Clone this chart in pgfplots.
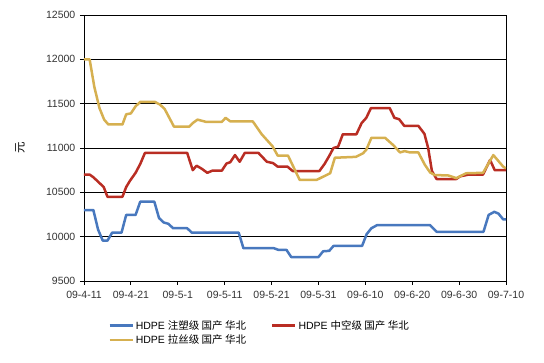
\documentclass[border=0pt]{standalone}
\usepackage{fontspec}
\setmainfont{Liberation Sans}
\newfontfamily\cjk{Noto Sans CJK SC}
\usepackage{pgfplots}
\pgfplotsset{compat=1.18}
\definecolor{sblue}{RGB}{72,120,190}
\definecolor{sred}{RGB}{185,45,35}
\definecolor{sgold}{RGB}{214,176,80}
\begin{document}
\fontsize{10.5}{13}\selectfont
\begin{tikzpicture}[x=1pt,y=1pt]
\path[use as bounding box] (0,0) rectangle (544,363);
\begin{axis}[
  at={(84pt,82pt)}, anchor=south west,
  scale only axis, width=422pt, height=266pt,
  xmin=0, xmax=90, ymin=9500, ymax=12500,
  xtick={0,10,...,90},
  xticklabels={09-4-11,09-4-21,09-5-1,09-5-11,09-5-21,09-5-31,09-6-10,09-6-20,09-6-30,09-7-10},
  ytick={9500,10000,...,12500},
  scaled y ticks=false,
  /pgf/number format/1000 sep={},
  /pgf/number format/fixed,
  /pgf/number format/assume math mode=true,
  tick align=outside, xtick pos=left, ytick pos=left,
  major tick length=4pt,
  tick style={black, line width=0.8pt},
  axis line style={black, line width=0.8pt},
  ymajorgrids, grid style={black, line width=0.8pt},
  tick label style={font=\fontsize{10.5}{12}\selectfont, text=black!80},
  xticklabel style={yshift=-2pt},
  yticklabel style={xshift=-1pt},
  ylabel={\cjk 元},
  ylabel style={at={(axis description cs:-0.152,0.5)}, anchor=center, font=\fontsize{11.5}{12}\selectfont},
  legend columns=2,
  legend style={at={(0.057,-0.14)}, anchor=north west, draw=none, fill=none,
    font=\fontsize{10.5}{13}\selectfont, row sep=0pt, inner sep=0pt},
  legend cell align=left,
  /tikz/every even column/.append style={column sep=23pt},
  legend image code/.code={\draw[#1, line width=2.5pt] (0pt,0pt) -- (23pt,0pt);},
  every axis plot/.append style={line width=2.5pt, line join=round},
]
\addplot[sblue] coordinates {
(0,10300) (2,10300) (3,10080) (4,9955) (5,9955) (6,10045) (8,10045) (9,10245) (11,10245)
(12,10395) (15,10395) (16,10210) (17,10160) (18,10145) (19,10095) (22,10095) (23,10045)
(33,10045) (34,9870) (40.5,9870) (41.5,9850) (43.2,9850) (44.2,9770) (50,9770) (51,9835)
(52.3,9840) (53.2,9895) (59.3,9895) (60.3,10030) (61.3,10095) (62.5,10130) (73.8,10130)
(75.2,10055) (85.2,10055) (86.3,10245) (87.5,10280) (88.4,10260) (89.4,10195) (90,10195)
};
\addlegendentry{HDPE {\cjk 注塑级 国产 华北}}
\addplot[sred] coordinates {
(0,10700) (1.2,10700) (2,10670) (3,10620) (4.2,10560) (5,10450) (8.2,10450) (9,10560)
(9.8,10630) (11,10720) (12,10820) (13,10945) (22,10945) (23.2,10750) (24,10800) (25,10770)
(26.3,10720) (27.4,10745) (29.4,10745) (30.4,10825) (31.2,10840) (32.2,10920) (33.2,10845)
(34.3,10945) (37.2,10945) (38,10900) (39,10845) (40.3,10830) (41.3,10790) (43.4,10790)
(44.5,10740) (50.2,10740) (51.3,10820) (52.3,10910) (53.2,11000) (54.2,11015) (55.2,11155)
(58.1,11155) (59.2,11280) (60.2,11340) (61.2,11450) (65.2,11450) (66.2,11340) (67.2,11325)
(68.3,11250) (71.3,11250) (72.6,11160) (73.4,11000) (74.2,10740) (75.2,10650) (79.4,10650)
(80.2,10680) (82,10700) (85.1,10700) (86.6,10865) (87.6,10750) (90,10750)
};
\addlegendentry{HDPE {\cjk 中空级 国产 华北}}
\addplot[sgold] coordinates {
(0,12000) (1.2,12000) (2.2,11690) (3.3,11450) (4.3,11320) (5.2,11265) (8.2,11265)
(9,11380) (10,11390) (11,11470) (12,11520) (15.1,11520) (16.2,11490) (17.2,11440)
(18.2,11340) (19.2,11240) (22.4,11240) (23.3,11285) (24.2,11320) (26,11295) (29.4,11295)
(30.2,11340) (31.2,11300) (36,11300) (37.9,11155) (40.2,11020) (41.3,10915) (43.5,10915)
(46,10640) (49.6,10640) (52.5,10715) (53.5,10890) (58,10900) (59.5,10940) (60.2,10980)
(61.3,11115) (64.2,11115) (66,11030) (67.4,10950) (68.4,10965) (69.5,10950) (71.3,10950)
(72.7,10810) (73.8,10725) (74.8,10695) (77.7,10690) (79.4,10660) (81.5,10715) (85.1,10720)
(87.3,10920) (89.4,10790) (90,10770)
};
\addlegendentry{HDPE {\cjk 拉丝级 国产 华北}}
\end{axis}
\end{tikzpicture}
\end{document}
